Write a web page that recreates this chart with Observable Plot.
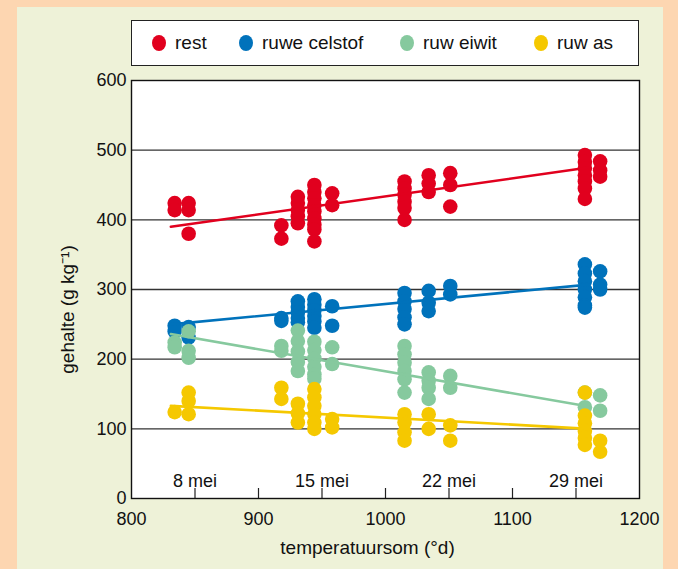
<!DOCTYPE html>
<html>
<head>
<meta charset="utf-8">
<script src="https://cdn.jsdelivr.net/npm/d3@7"></script>
<script src="https://cdn.jsdelivr.net/npm/@observablehq/plot@0.6"></script>
<style>
  body { margin: 0; }
  #page { position: relative; width: 678px; height: 569px; background: #fdd6b1; overflow: hidden;
          font-family: "Liberation Sans", Arial, Helvetica, sans-serif; }
  #panel { position: absolute; left: 17px; top: 7px; width: 646px; height: 562px; background: #eef2d8; }
  #chart { position: absolute; left: 0; top: 0; }
  #legend { position: absolute; left: 131px; top: 20px; width: 508px; height: 46px; box-sizing: border-box;
            border: 1.3px solid #222; background: #fff; }
  .li { position: absolute; top: 0; height: 44px; display: flex; align-items: center; font-size: 19px; color: #111; }
  .sw { width: 14px; height: 16px; border-radius: 50%; margin-right: 9px; }
</style>
</head>
<body>
<div id="page">
  <div id="panel"></div>
  <div id="chart"></div>
  <div id="legend"></div>
</div>
<script>
// ---- data ----
const seriesNames = ["rest", "ruwe celstof", "ruw eiwit", "ruw as"];
const seriesColors = ["#e1001e", "#0072bb", "#86c99e", "#f5c800"];

// temperature sum (°d) of each sample column
const columns = [834, 845, 918, 931, 944, 958, 1015, 1034, 1051, 1157, 1169];

// values (g/kg) per column
const rest = [
  [424, 414], [424, 414, 380], [392, 373], [433, 424, 414, 405, 395],
  [450, 440, 431, 421, 412, 402, 393, 386, 369], [438, 421],
  [455, 445, 436, 426, 417, 400], [464, 452, 440], [467, 450, 419],
  [493, 483, 474, 464, 455, 445, 430], [484, 471, 462]
];
const ruweCelstof = [
  [248, 240], [246, 231], [259, 255], [283, 275, 267, 259, 253],
  [286, 278, 270, 262, 254, 245], [276, 248],
  [295, 283, 272, 260, 250], [298, 281, 269], [305, 293],
  [336, 323, 312, 300, 289, 277, 274], [326, 307, 300]
];
const ruwEiwit = [
  [224, 217], [240, 212, 202], [219, 212], [241, 226, 211, 196, 183],
  [225, 213, 201, 189, 178, 172], [217, 193],
  [219, 207, 195, 183, 171, 152], [181, 169, 159, 143], [176, 159],
  [152, 131], [148, 126]
];
const ruwAs = [
  [124], [152, 140, 121], [159, 143], [136, 122, 109],
  [157, 145, 133, 121, 109, 100], [114, 102],
  [121, 109, 95, 83], [121, 100], [105, 83],
  [152, 119, 108, 97, 87, 77], [83, 67]
];

// trend lines (start / end)
const trendX = [831, 1160];
const trendRest = [390, 475];
const trendCelstof = [250, 307];
const trendEiwit = [236, 132];
const trendAs = [133, 100];

const xTicks = [800, 900, 1000, 1100, 1200];
const xMinorTicks = [850, 900, 950, 1000, 1050, 1100, 1150];
const yTicks = [0, 100, 200, 300, 400, 500, 600];
const gridY = [100, 200, 300, 400, 500];
const dateLabels = ["8 mei", "15 mei", "22 mei", "29 mei"];
const dateX = [850, 950, 1050, 1150];
const xLabel = "temperatuursom (°d)";
const yLabel = "gehalte (g kg⁻¹)";

// ---- build ----
const allValues = [rest, ruweCelstof, ruwEiwit, ruwAs];
const allTrends = [trendRest, trendCelstof, trendEiwit, trendAs];

function points(vals) {
  const out = [];
  vals.forEach((col, i) => col.forEach(v => out.push({x: columns[i], y: v})));
  return out;
}

const marginTop = 80, marginBottom = 71, H = 569;
const innerH = H - marginTop - marginBottom;

const seriesMarks = [];
allValues.forEach((vals, k) => {
  seriesMarks.push(Plot.dot(points(vals), {x: "x", y: "y", r: 7.3, fill: seriesColors[k], stroke: "none"}));
  const tl = trendX.map((x, i) => ({x, y: allTrends[k][i]}));
  seriesMarks.push(Plot.line(tl, {x: "x", y: "y", stroke: seriesColors[k], strokeWidth: 2.6}));
});

const chart = Plot.plot({
  width: 678,
  height: H,
  marginLeft: 131,
  marginRight: 39,
  marginTop,
  marginBottom,
  x: {domain: [800, 1200]},
  y: {domain: [0, 600]},
  style: {background: "transparent", fontFamily: "'Liberation Sans', Arial, Helvetica, sans-serif", fontSize: "18px", color: "#111"},
  marks: [
    Plot.frame({fill: "white"}),
    Plot.ruleY(gridY, {stroke: "#333", strokeWidth: 1.3}),
    Plot.tickX(xMinorTicks, {x: d => d, insetTop: innerH - 10, stroke: "#222", strokeWidth: 1.2}),
    Plot.axisY({ticks: yTicks, tickSize: 0, tickPadding: 5, label: null, fontSize: 18, tickFormat: d => String(d)}),
    Plot.axisX({ticks: xTicks, tickSize: 0, tickPadding: 14, label: null, fontSize: 18, tickFormat: d => String(d)}),
    ...seriesMarks,
    Plot.text(dateLabels, {x: (d, i) => dateX[i], text: d => d, frameAnchor: "bottom", dy: -12, fontSize: 18, fill: "#111"}),
    Plot.text([xLabel], {text: d => d, frameAnchor: "bottom", dy: 55, dx: -18, fontSize: 19, fill: "#111"}),
    Plot.text([yLabel], {text: d => d, frameAnchor: "left", textAnchor: "middle", rotate: -90, dx: -64, dy: 20, fontSize: 19, fill: "#111"}),
    Plot.frame({stroke: "#111", strokeWidth: 1.4})
  ]
});
document.getElementById("chart").appendChild(chart);

// legend
const legendLeft = [20, 107, 268, 402];
const legend = document.getElementById("legend");
seriesNames.forEach((name, k) => {
  const item = document.createElement("div");
  item.className = "li";
  item.style.left = legendLeft[k] + "px";
  const sw = document.createElement("span");
  sw.className = "sw";
  sw.style.background = seriesColors[k];
  const t = document.createElement("span");
  t.textContent = name;
  item.appendChild(sw);
  item.appendChild(t);
  legend.appendChild(item);
});
</script>
</body>
</html>
